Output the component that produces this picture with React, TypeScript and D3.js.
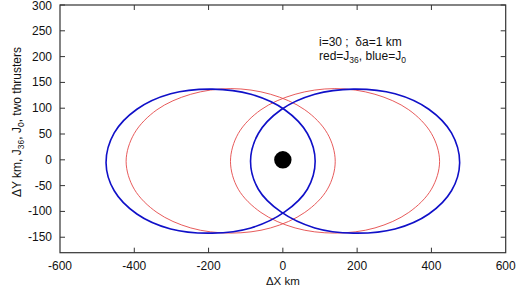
import React from "react";
import * as d3 from "d3";

const xTicks = [-600, -400, -200, 0, 200, 400, 600];
const yTicks = [-150, -100, -50, 0, 50, 100, 150, 200, 250, 300];

// Points (ΔX km, ΔY km), going around each ellipse
const blueLeft: [number, number][] = [
  [87, -3], [66, 51], [5, 97], [-86, 127], [-190, 137], [-302, 128], [-393, 98], [-454, 52],
  [-476, -6], [-454, -60], [-393, -105], [-302, -134], [-190, -142], [-86, -132], [5, -101], [66, -57],
];
const blueRight: [number, number][] = [
  [476, -6], [454, 52], [393, 98], [302, 128], [190, 137], [86, 127], [-5, 97], [-66, 51],
  [-87, -3], [-66, -57], [-5, -101], [86, -132], [190, -142], [302, -134], [393, -105], [454, -60],
];
const redLeft: [number, number][] = [
  [141, -3], [120, 51], [59, 97], [-33, 127], [-140, 138], [-248, 127], [-339, 97], [-400, 51],
  [-422, -3], [-400, -57], [-339, -102], [-248, -132], [-140, -142], [-33, -132], [59, -102], [120, -57],
];
const redRight: [number, number][] = [
  [422, -3], [400, 51], [339, 97], [248, 127], [140, 138], [33, 127], [-59, 97], [-120, 51],
  [-141, -3], [-120, -57], [-59, -102], [33, -132], [140, -142], [248, -132], [339, -102], [400, -57],
];
const bodyPoint: [number, number] = [0, 0];

const W = 520;
const H = 287;
const M = { left: 60, top: 5, right: 505.7, bottom: 252.7 };

export default function App() {
  const x = d3.scaleLinear().domain([-600, 600]).range([M.left, M.right]);
  const y = d3.scaleLinear().domain([-180, 300]).range([M.bottom, M.top]);
  const line = d3
    .line<[number, number]>()
    .x((d) => x(d[0]))
    .y((d) => y(d[1]))
    .curve(d3.curveCatmullRomClosed.alpha(0.5));
  const font = "'Liberation Sans', Arial, Helvetica, sans-serif";
  const tl = 5;
  const frame = "#333";
  return (
    <svg width={W} height={H} style={{ position: "absolute", left: 0, top: 0 }} fontFamily={font}>
      <rect x={0} y={0} width={W} height={H} fill="#fff" />
      <defs>
        <clipPath id="plot">
          <rect x={M.left} y={M.top} width={M.right - M.left} height={M.bottom - M.top} />
        </clipPath>
      </defs>
      <g clipPath="url(#plot)">
        <path d={line(redLeft) || ""} fill="none" stroke="#e44848" strokeWidth={0.9} />
        <path d={line(redRight) || ""} fill="none" stroke="#e44848" strokeWidth={0.9} />
        <path d={line(blueLeft) || ""} fill="none" stroke="#1010c8" strokeWidth={1.6} />
        <path d={line(blueRight) || ""} fill="none" stroke="#1010c8" strokeWidth={1.6} />
        <circle cx={x(bodyPoint[0])} cy={y(bodyPoint[1])} r={8.7} fill="#000" />
      </g>
      {xTicks.slice(1, -1).map((t) => (
        <g key={"xt" + t}>
          <line x1={x(t)} x2={x(t)} y1={M.bottom} y2={M.bottom - tl} stroke={frame} />
          <line x1={x(t)} x2={x(t)} y1={M.top} y2={M.top + tl} stroke={frame} />
        </g>
      ))}
      {yTicks.map((t) => (
        <g key={"yt" + t}>
          <line x1={M.left} x2={M.left + tl} y1={y(t)} y2={y(t)} stroke={frame} />
          <line x1={M.right} x2={M.right - tl} y1={y(t)} y2={y(t)} stroke={frame} />
        </g>
      ))}
      <rect x={M.left} y={M.top} width={M.right - M.left} height={M.bottom - M.top} fill="none" stroke={frame} strokeWidth={1.2} />
      {xTicks.map((t) => (
        <text key={"xl" + t} x={x(t)} y={270} fontSize={12} textAnchor="middle" fill="#111">
          {t}
        </text>
      ))}
      {yTicks.map((t) => (
        <text key={"yl" + t} x={52} y={Math.max(y(t) + 4, 10)} fontSize={12} textAnchor="end" fill="#111">
          {t}
        </text>
      ))}
      <text x={(M.left + M.right) / 2} y={285} fontSize={11.5} textAnchor="middle" fill="#111">
        ΔX km
      </text>
      <text transform="translate(21,122) rotate(-90)" fontSize={12} textAnchor="middle" fill="#111">
        ΔY km, J<tspan fontSize={8.5} dy={3}>36</tspan>
        <tspan dy={-3}>, J</tspan>
        <tspan fontSize={8.5} dy={3}>0</tspan>
        <tspan dy={-3}>, two thrusters</tspan>
      </text>
      <text x={319} y={46} fontSize={12} fill="#111" style={{ whiteSpace: "pre" }}>
        {"i=30 ;  δa=1 km"}
      </text>
      <text x={319} y={60} fontSize={12} fill="#111">
        red=J<tspan fontSize={8.5} dy={3}>36</tspan>
        <tspan dy={-3}>, blue=J</tspan>
        <tspan fontSize={8.5} dy={3}>0</tspan>
      </text>
    </svg>
  );
}
